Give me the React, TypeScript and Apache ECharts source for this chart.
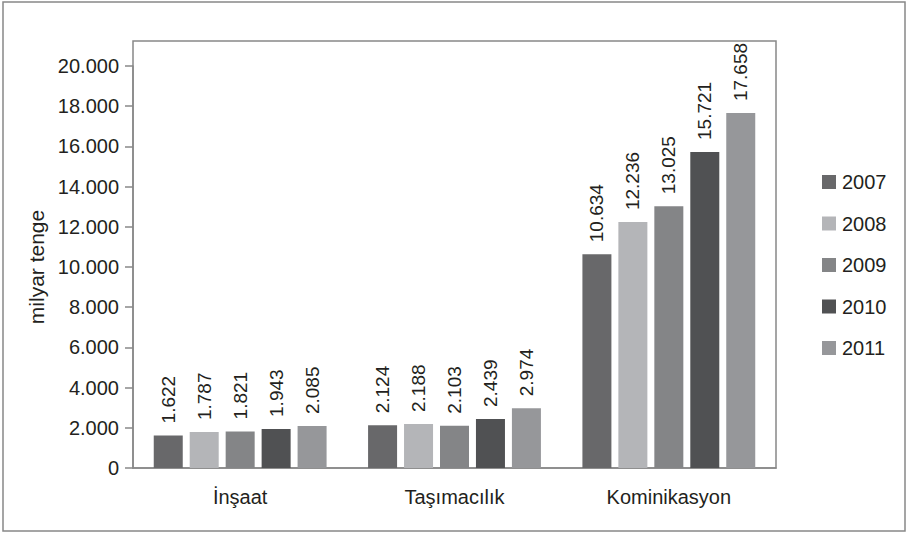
import React, { useEffect, useRef } from "react";
import * as echarts from "echarts";

const categories = ["İnşaat", "Taşımacılık", "Kominikasyon"];
const years = ["2007", "2008", "2009", "2010", "2011"];
const values2007 = [1622, 2124, 10634];
const values2008 = [1787, 2188, 12236];
const values2009 = [1821, 2103, 13025];
const values2010 = [1943, 2439, 15721];
const values2011 = [2085, 2974, 17658];
const seriesValues = [values2007, values2008, values2009, values2010, values2011];
const colors = ["#68686a", "#b4b5b8", "#848587", "#505153", "#96979a"];

const FONT = "'Liberation Sans', Arial, sans-serif";
const TEXT = "#231f20";

const fmt = (v: number) => {
  const s = Math.round(v).toString();
  return s.replace(/\B(?=(\d{3})+(?!\d))/g, ".");
};

export default function App() {
  const ref = useRef<HTMLDivElement>(null);
  useEffect(() => {
    const chart = echarts.init(ref.current!, null, { renderer: "svg" });
    chart.setOption({
      animation: false,
      backgroundColor: "#ffffff",
      grid: { left: 133, right: 132, top: 66, bottom: 65 },
      legend: {
        orient: "vertical",
        left: 817,
        top: 167,
        itemWidth: 14,
        itemHeight: 14,
        itemGap: 21.5,
        icon: "rect",
        textStyle: { fontFamily: FONT, fontSize: 20, color: TEXT, padding: [0, 0, 0, 1] },
        data: years,
      },
      xAxis: {
        type: "category",
        data: categories,
        axisLine: { lineStyle: { color: "#888", width: 1.5 } },
        axisTick: { length: 8, lineStyle: { color: "#888", width: 1.5 } },
        axisLabel: { fontFamily: FONT, fontSize: 20, color: TEXT, margin: 19 },
      },
      yAxis: {
        type: "value",
        min: 0,
        max: 20000,
        interval: 2000,
        name: "milyar tenge",
        nameLocation: "middle",
        nameGap: 84,
        nameRotate: 90,
        nameTextStyle: { fontFamily: FONT, fontSize: 21, color: TEXT, padding: [0, 0, 0, 0] },
        axisLine: { show: true, lineStyle: { color: "#888", width: 1.5 } },
        axisTick: { show: true, length: 8, lineStyle: { color: "#888", width: 1.5 } },
        splitLine: { show: false },
        axisLabel: {
          fontFamily: FONT,
          fontSize: 20,
          color: TEXT,
          margin: 14,
          formatter: (v: number) => fmt(v),
        },
      },
      graphic: [
        {
          type: "rect",
          shape: { x: 3, y: 2, width: 902, height: 529 },
          style: { fill: "none", stroke: "#888", lineWidth: 1.5 },
          silent: true,
        },
        {
          type: "rect",
          shape: { x: 133, y: 41, width: 643, height: 427 },
          style: { fill: "none", stroke: "#888", lineWidth: 1.5 },
          silent: true,
        },
      ],
      series: years.map((y, i) => ({
        name: y,
        type: "bar",
        data: seriesValues[i],
        barWidth: 29,
        barGap: "24%",
        itemStyle: { color: colors[i] },
        label: {
          show: true,
          position: "top",
          rotate: 90,
          align: "left",
          verticalAlign: "middle",
          distance: 10,
          offset: [2, 0],
          fontFamily: FONT,
          fontSize: 19,
          color: TEXT,
          formatter: (p: any) => fmt(p.value),
        },
      })),
    });
    return () => chart.dispose();
  }, []);
  return <div ref={ref} style={{ width: 908, height: 533, position: "absolute", left: 0, top: 0 }} />;
}
